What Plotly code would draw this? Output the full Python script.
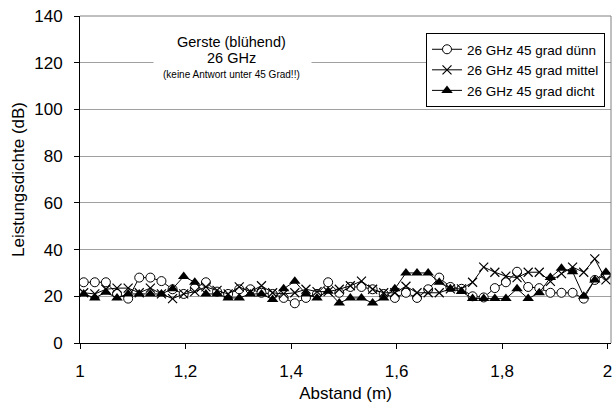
import numpy as np
import plotly.graph_objects as go

# distance positions (m)
abstand = list(np.round(np.linspace(1.007, 1.997, 48), 4))

duenn = [26, 26, 26, 21, 19, 28, 28, 26.5, 23, 21, 23.5, 26, 22, 21, 23, 23,
         21.5, 21, 19.3, 17, 19.3, 21, 26, 21.5, 24, 24, 23, 21, 19.3, 21.5, 19.3, 23,
         28, 24, 23.2, 20, 19.5, 23.5, 26, 30.5, 24, 23.5, 21.5, 21.5, 21.5, 19, 27, 29]
mittel = [21.5, 21, 23, 23.5, 23.5, 21.5, 23.5, 21, 19, 21, 22, 24, 22.5, 21, 24, 22,
          24.5, 21.5, 21, 21.5, 23, 22, 22, 23, 24.5, 26.5, 23, 21.5, 21.5, 24.3, 21.5, 21.5,
          21.5, 23.2, 23.2, 26, 32.5, 30.3, 28.6, 28, 30.3, 30.3, 26.4, 29.7, 32.5, 30.3, 36, 27]
dicht = [21, 19.3, 21.7, 19.3, 21, 21, 21, 21, 23.2, 28.5, 26, 21, 21, 19.3, 19.3, 21,
         21, 18.6, 23.2, 26.4, 21, 19.3, 22.2, 17.1, 19.3, 19.3, 17.1, 19.3, 23.2, 30, 30, 30,
         26, 23.2, 22, 19, 19, 19, 19, 23.2, 19, 21.5, 28, 32, 30.5, 20, 27, 30.3]

series_names = ["26 GHz 45 grad dünn", "26 GHz 45 grad mittel", "26 GHz 45 grad dicht"]
x_tickvals = [1, 1.2, 1.4, 1.6, 1.8, 2]
x_ticktext = ["1", "1,2", "1,4", "1,6", "1,8", "2"]
y_tickvals = [0, 20, 40, 60, 80, 100, 120, 140]

FONT = "Liberation Sans, Arial, sans-serif"

fig = go.Figure()
fig.add_trace(go.Scatter(x=abstand, y=duenn, name=series_names[0], mode="lines+markers",
                         line=dict(color="black", width=1),
                         marker=dict(symbol="circle", size=9, color="white",
                                     line=dict(color="black", width=1))))
fig.add_trace(go.Scatter(x=abstand, y=mittel, name=series_names[1], mode="lines+markers",
                         line=dict(color="black", width=1),
                         marker=dict(symbol="x-thin-open", size=9, color="black",
                                     line=dict(color="black", width=1.2))))
fig.add_trace(go.Scatter(x=abstand, y=dicht, name=series_names[2], mode="lines+markers",
                         line=dict(color="black", width=1),
                         marker=dict(symbol="triangle-up", size=10, color="black",
                                     line=dict(color="black", width=0))))

L, R, T, B = 80, 2, 16, 67
W, H = 613, 410
pw, ph = W - L - R, H - T - B

def px(xp):
    return (xp - L) / pw

def py(yp):
    return (H - B - yp) / ph

fig.update_layout(
    width=W, height=H,
    margin=dict(l=L, r=R, t=T, b=B),
    paper_bgcolor="white", plot_bgcolor="white",
    font=dict(family=FONT, color="black"),
    showlegend=True,
    legend=dict(x=px(605), y=py(33), xanchor="right", yanchor="top",
                bgcolor="white", bordercolor="black", borderwidth=1,
                font=dict(size=13.5, family=FONT), tracegroupgap=0,
                itemwidth=30),
    xaxis=dict(range=[1, 2.0066], tickvals=x_tickvals, ticktext=x_ticktext,
               showgrid=False, zeroline=False, showline=True, linecolor="black",
               linewidth=1, ticks="outside", ticklen=5, tickcolor="black",
               ticklabelstandoff=8, ticklabeloverflow="allow",
               tickfont=dict(size=17), title=dict(text="Abstand (m)", font=dict(size=17), standoff=6)),
    yaxis=dict(range=[0, 140], tickvals=y_tickvals, showgrid=True, gridcolor="#a0a0a0",
               gridwidth=1, zeroline=False, showline=True, linecolor="black", linewidth=1,
               ticks="outside", ticklen=5, tickcolor="black", tickfont=dict(size=17),
               ticklabelstandoff=8,
               title=dict(text="Leistungsdichte (dB)", font=dict(size=17), standoff=5)),
    shapes=[
        dict(type="line", xref="paper", yref="paper", x0=1, x1=1, y0=0, y1=1,
             line=dict(color="#808080", width=1)),
        dict(type="line", xref="paper", yref="paper", x0=0, x1=1, y0=1, y1=1,
             line=dict(color="#808080", width=1)),
    ],
    annotations=[
        dict(xref="paper", yref="paper", x=px(232), y=py(57), xanchor="center", yanchor="middle",
             text=" ", showarrow=False, bgcolor="white", width=155, height=56,
             font=dict(size=12)),
        dict(xref="paper", yref="paper", x=px(231), y=py(42), text="Gerste (blühend)",
             xanchor="center", yanchor="middle",
             showarrow=False, font=dict(size=14.5, family=FONT)),
        dict(xref="paper", yref="paper", x=px(231), y=py(58), text="26 GHz",
             xanchor="center", yanchor="middle",
             showarrow=False, font=dict(size=14.5, family=FONT)),
        dict(xref="paper", yref="paper", x=px(231), y=py(74), text="(keine Antwort unter 45 Grad!!)",
             xanchor="center", yanchor="middle",
             showarrow=False, font=dict(size=10, family=FONT)),
    ],
)

fig.write_html("out.html")
